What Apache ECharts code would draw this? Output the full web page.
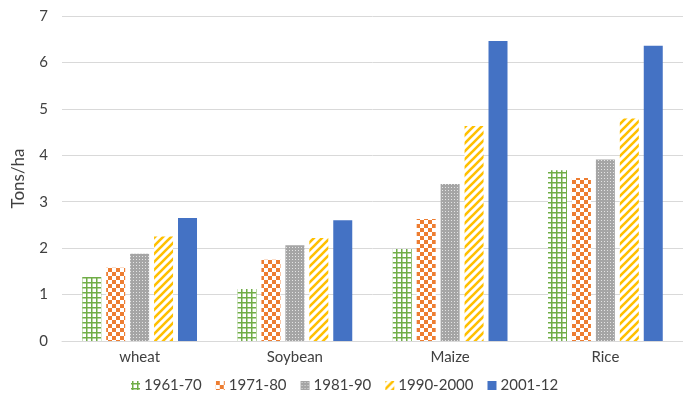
<!DOCTYPE html>
<html>
<head>
<meta charset="utf-8">
<script src="https://cdn.jsdelivr.net/npm/echarts@6/dist/echarts.min.js"></script>
<style>
  html, body { margin: 0; padding: 0; background: #fff; }
  #chart { width: 683px; height: 401px; }
</style>
</head>
<body>
<div id="chart"></div>
<script>
// crops and decades
var crops = ['wheat', 'Soybean', 'Maize', 'Rice']
var decades = ['1961-70', '1971-80', '1981-90', '1990-2000', '2001-12']
var yTicks = [0, 1, 2, 3, 4, 5, 6, 7]

// yield (tons/ha) per decade, in crop order
var y1961 = [1.38, 1.12, 1.98, 3.68]
var y1971 = [1.58, 1.75, 2.63, 3.51]
var y1981 = [1.88, 2.06, 3.38, 3.91]
var y1990 = [2.25, 2.22, 4.63, 4.79]
var y2001 = [2.65, 2.60, 6.46, 6.36]

var values = [y1961, y1971, y1981, y1990, y2001]

// pattern tiles, drawn on small canvases
function tile(w, h, draw) {
  var c = document.createElement('canvas')
  c.width = w
  c.height = h
  var ctx = c.getContext('2d')
  ctx.fillStyle = '#ffffff'
  ctx.fillRect(0, 0, w, h)
  draw(ctx)
  return c
}

var plaid = tile(5, 5, function(ctx) {
  ctx.fillStyle = '#70AD47'
  ctx.fillRect(1, 0, 1.5, 5)
  ctx.fillRect(0, 2, 5, 1.5)
})
var checker = tile(8, 8, function(ctx) {
  ctx.fillStyle = '#ED7D31'
  ctx.fillRect(0, 0, 4, 4)
  ctx.fillRect(4, 4, 4, 4)
})
var dotted = tile(3, 3, function(ctx) {
  ctx.fillStyle = '#A5A5A5'
  ctx.fillRect(0, 0, 3, 3)
  ctx.fillStyle = '#e4e4e4'
  ctx.fillRect(1, 1, 1, 1)
})
var stripes = tile(8, 8, function(ctx) {
  ctx.strokeStyle = '#FFC000'
  ctx.lineWidth = 2.6
  ctx.beginPath()
  ctx.moveTo(-2, 10); ctx.lineTo(10, -2)
  ctx.moveTo(-6, 6); ctx.lineTo(6, -6)
  ctx.moveTo(2, 14); ctx.lineTo(14, 2)
  ctx.stroke()
})

var fills = [
  { image: plaid, repeat: 'repeat' },
  { image: checker, repeat: 'repeat' },
  { image: dotted, repeat: 'repeat' },
  { image: stripes, repeat: 'repeat' },
  '#4472C4'
]

var series = []
for (var i = 0; i < decades.length; i++) {
  series.push({
    name: decades[i],
    type: 'bar',
    barWidth: 19,
    barGap: '26%',
    data: values[i],
    itemStyle: { color: fills[i] }
  })
}

var myChart = echarts.init(document.getElementById('chart'))
var option = {
  animation: false,
  textStyle: { fontFamily: 'Lato' },
  grid: {
    left: 62,
    right: -4,
    top: 16,
    bottom: 60
  },
  legend: {
    bottom: 3,
    left: 126,
    itemWidth: 9,
    itemHeight: 9,
    itemGap: 14,
    icon: 'rect',
    textStyle: { color: '#404040', fontSize: 15, fontFamily: 'Lato', padding: [0, 0, 0, -1] },
    data: decades
  },
  xAxis: {
    type: 'category',
    data: crops,
    axisTick: { show: false },
    axisLine: { lineStyle: { color: '#d9d9d9', width: 1 } },
    axisLabel: { color: '#404040', fontSize: 15, margin: 9 }
  },
  yAxis: {
    type: 'value',
    min: yTicks[0],
    max: yTicks[yTicks.length - 1],
    interval: 1,
    name: 'Tons/ha',
    nameLocation: 'middle',
    nameGap: 35,
    nameTextStyle: { color: '#404040', fontSize: 17 },
    axisLine: { show: false },
    axisTick: { show: false },
    axisLabel: { color: '#404040', fontSize: 15, margin: 14 },
    splitLine: { lineStyle: { color: '#d9d9d9', width: 1 } }
  },
  series: series
}
myChart.setOption(option)
</script>
</body>
</html>
